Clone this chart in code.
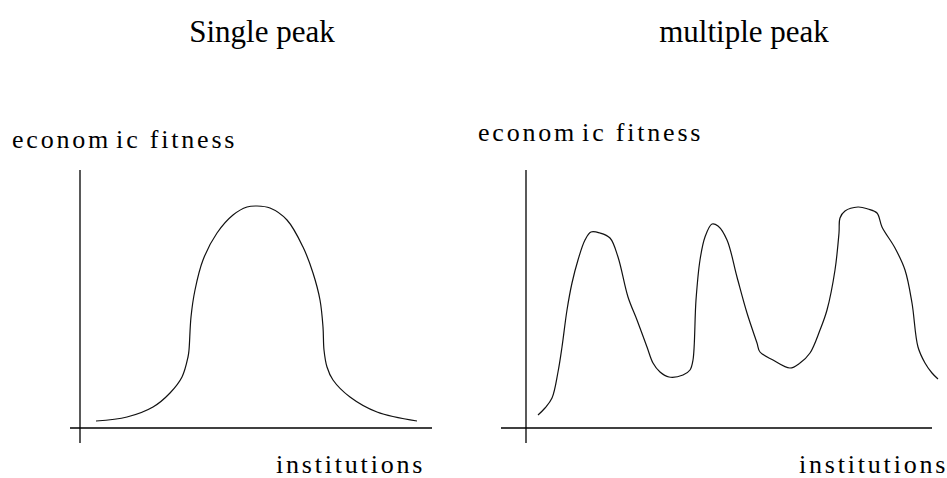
<!DOCTYPE html>
<html>
<head>
<meta charset="utf-8">
<script src="https://cdn.jsdelivr.net/npm/d3@7"></script>
<style>
  body { margin: 0; background: #fff; }
</style>
</head>
<body>
<div id="chart"></div>
<script>
// size of the page
const width = 947;
const height = 478;
const serif = "'Liberation Serif', 'Times New Roman', serif";

// panel titles and axis labels
const titles = ["Single peak", "multiple peak"];
const yLabel = "economic fitness";
const xLabel = "institutions";

// single peak curve (institutions, fitness)
const singleX = [1.6, 4.7, 7.3, 9.0, 10.2, 10.8, 10.9, 11.1, 11.5, 12.3, 13.7, 15.3, 16.7, 17.7,
  19.0, 20.7, 22.3, 23.3, 24.0, 24.3, 24.4, 24.7, 25.3, 27.0, 29.7, 33.7];
const singleY = [0.7, 1.1, 2.1, 3.5, 5.1, 7.1, 7.8, 11.1, 13.8, 16.8, 19.5, 21.3, 22.1, 22.2,
  22.0, 20.8, 18.1, 15.5, 12.8, 10.1, 7.8, 6.1, 4.8, 3.1, 1.6, 0.7];

// multiple peak curve (institutions, fitness)
const multiX = [1.2, 1.9, 2.6, 3.2, 3.6, 4.1, 4.6, 5.2, 5.9, 6.5, 7.4, 8.4, 9.2, 10.2, 11.1, 12.1,
  12.7, 13.4, 14.3, 15.7, 16.4, 16.7, 17.0, 17.4, 17.9, 18.6, 19.2, 20.1, 21.1, 22.1, 23.1,
  23.4, 24.7, 26.4, 27.4, 28.4, 29.4, 30.1, 30.9, 31.3, 31.4, 31.9, 33.2, 34.2, 35.1, 35.6,
  36.9, 37.9, 38.6, 39.2, 39.9, 40.6, 41.2];
const multiY = [1.3, 2.0, 3.0, 5.6, 8.1, 11.8, 14.5, 16.8, 18.8, 19.6, 19.5, 19.0, 17.1, 13.1,
  10.8, 8.1, 6.5, 5.6, 5.1, 5.3, 5.8, 6.8, 12.8, 16.8, 19.1, 20.4, 20.2, 18.8, 15.1, 11.5,
  8.5, 7.6, 6.8, 6.0, 6.5, 7.5, 9.8, 11.8, 15.8, 19.5, 21.0, 21.7, 22.1, 21.9, 21.5, 20.1,
  18.0, 15.8, 12.5, 8.1, 6.5, 5.5, 4.9];

// axis extents in data units
const singleXDomain = [-1, 35.2];
const multiXDomain = [-2.5, 40.6];
const yDomain = [-1.5, 25.8];

const svg = d3
  .select("#chart")
  .append("svg")
  .attr("width", width)
  .attr("height", height);

// one panel: axes + curve + labels
function drawPanel(opt) {
  const x = d3
    .scaleLinear()
    .domain(opt.xDomain)
    .range([opt.left, opt.left + (opt.xDomain[1] - opt.xDomain[0]) * 10]);
  const y = d3
    .scaleLinear()
    .domain(yDomain)
    .range([443, 443 - (yDomain[1] - yDomain[0]) * 10]);

  const g = svg.append("g");

  // x axis
  g.append("line")
    .attr("x1", x(opt.xDomain[0]))
    .attr("x2", x(opt.xDomain[1]))
    .attr("y1", y(0))
    .attr("y2", y(0))
    .attr("stroke", "#000")
    .attr("stroke-width", 1.3);

  // y axis
  g.append("line")
    .attr("x1", x(0))
    .attr("x2", x(0))
    .attr("y1", y(yDomain[0]))
    .attr("y2", y(yDomain[1]))
    .attr("stroke", "#000")
    .attr("stroke-width", 1.3);

  const pts = opt.xs.map((v, i) => [v, opt.ys[i]]);
  const line = d3
    .line()
    .x((d) => x(d[0]))
    .y((d) => y(d[1]))
    .curve(d3.curveCatmullRom.alpha(0.5));

  g.append("path")
    .datum(pts)
    .attr("d", line)
    .attr("fill", "none")
    .attr("stroke", "#111")
    .attr("stroke-width", 1.2);

  // title
  g.append("text")
    .attr("x", opt.titleX)
    .attr("y", 42)
    .attr("text-anchor", "middle")
    .attr("font-family", serif)
    .attr("font-size", 31)
    .text(opt.title);

  // y label (the original has a little gap inside "economic")
  const yl = g.append("text")
    .attr("x", opt.yLabelX)
    .attr("y", opt.yLabelY)
    .attr("font-family", serif)
    .attr("font-size", 26)
    .attr("letter-spacing", 2.8);
  yl.append("tspan").text(yLabel.slice(0, 6));
  yl.append("tspan").attr("dx", 5).text(yLabel.slice(6));

  // x label
  g.append("text")
    .attr("x", opt.xLabelX)
    .attr("y", 473)
    .attr("font-family", serif)
    .attr("font-size", 26)
    .attr("letter-spacing", 2.8)
    .text(xLabel);
}

drawPanel({
  left: 70,
  xDomain: singleXDomain,
  xs: singleX,
  ys: singleY,
  title: titles[0],
  titleX: 262,
  yLabelX: 12,
  yLabelY: 148,
  xLabelX: 276,
});

drawPanel({
  left: 501,
  xDomain: multiXDomain,
  xs: multiX,
  ys: multiY,
  title: titles[1],
  titleX: 744,
  yLabelX: 478,
  yLabelY: 141,
  xLabelX: 799,
});
</script>
</body>
</html>
